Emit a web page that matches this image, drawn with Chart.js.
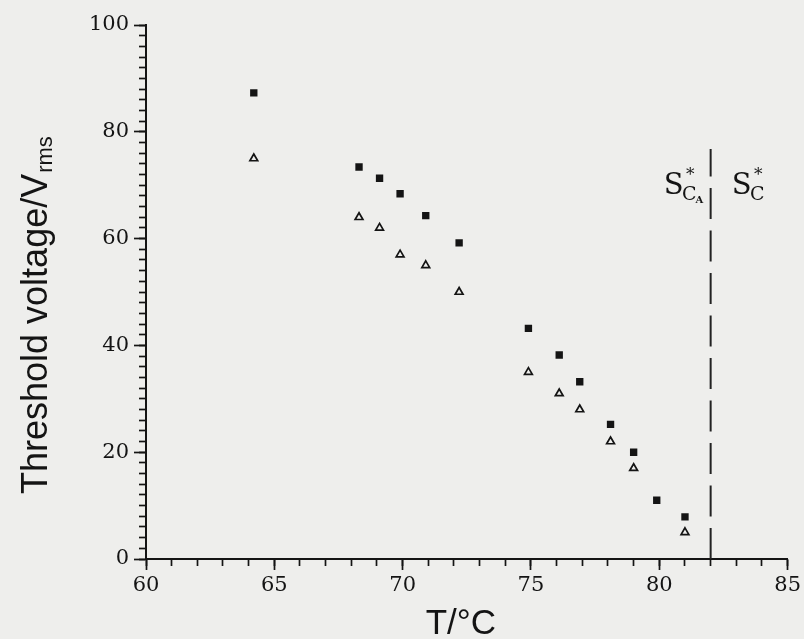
<!DOCTYPE html>
<html><head><meta charset="utf-8">
<script src="https://cdn.jsdelivr.net/npm/chart.js@4/dist/chart.umd.min.js"></script>
<style>html,body{margin:0;padding:0;background:#eeeeec;overflow:hidden}canvas{display:block}</style>
</head><body>
<canvas id="c" width="804" height="639" style="width:804px;height:639px"></canvas>
<script>
// ---- data ----
const squareTemps = [64.2, 68.3, 69.1, 69.9, 70.9, 72.2, 74.9, 76.1, 76.9, 78.1, 79.0, 79.9, 81.0];
const squareVolts = [87.3, 73.4, 71.3, 68.4, 64.3, 59.2, 43.2, 38.2, 33.2, 25.2, 20.0, 11.0, 7.9];
const triangleTemps = [64.2, 68.3, 69.1, 69.9, 70.9, 72.2, 74.9, 76.1, 76.9, 78.1, 79.0, 81.0];
const triangleVolts = [75, 64, 62, 57, 55, 50, 35, 31, 28, 22, 17, 5];
const transitionTemp = 82;
const transitionSpan = [0, 76.8];
const xRange = [60, 85];
const xMajorStep = 5, xMinorStep = 1;
const yRange = [0, 100];
const yMajorStep = 20, yMinorStep = 2;
const xTitle = 'T/°C';
const yTitleMain = 'Threshold voltage/V';
const yTitleSub = 'rms';
const phaseLabelLevel = 68.3;
const phaseLabels = [
  {main: 'S', sub: 'C', subsub: 'A', sup: '*'},
  {main: 'S', sub: 'C', subsub: '', sup: '*'}
];

const INK = '#141414';
const SERIF = '"DejaVu Serif", "Liberation Serif", serif';
const SANS = '"Liberation Sans", Arial, Helvetica, sans-serif';

const bgPlugin = {
  id: 'bg',
  beforeDraw(chart) {
    const ctx = chart.ctx;
    ctx.save();
    ctx.fillStyle = '#eeeeec';
    ctx.fillRect(0, 0, chart.width, chart.height);
    ctx.restore();
  }
};

const textPlugin = {
  id: 'texts',
  afterDraw(chart) {
    const ctx = chart.ctx;
    const xs = chart.scales.x, ys = chart.scales.y;
    const ca = chart.chartArea;
    ctx.save();
    ctx.fillStyle = INK;
    ctx.textBaseline = 'alphabetic';
    // x title
    ctx.font = '35px ' + SANS;
    ctx.textAlign = 'center';
    ctx.fillText(xTitle, (ca.left + ca.right) / 2 - 6, 634);
    // y title
    ctx.save();
    ctx.translate(47, 494);
    ctx.rotate(-Math.PI / 2);
    ctx.textAlign = 'left';
    ctx.font = '36px ' + SANS;
    ctx.fillText(yTitleMain, 0, 0);
    const w = ctx.measureText(yTitleMain).width;
    ctx.font = '22px ' + SANS;
    ctx.fillText(yTitleSub, w + 1, 5);
    ctx.restore();

    // phase labels around transition line
    const xp = xs.getPixelForValue(transitionTemp);
    const yp = ys.getPixelForValue(phaseLabelLevel);
    const starts = [-47, 21];
    phaseLabels.forEach((lab, i) => {
      let x = xp + starts[i];
      ctx.textAlign = 'left';
      ctx.font = '29px ' + SERIF;
      ctx.fillText(lab.main, x, yp);
      x += ctx.measureText(lab.main).width - 1.5;
      ctx.font = '19px ' + SERIF;
      ctx.fillText(lab.sub, x, yp + 5.5);
      const subW = ctx.measureText(lab.sub).width;
      ctx.font = '17px ' + SERIF;
      ctx.textAlign = 'center';
      ctx.fillText(lab.sup, x + subW / 2 + 1, yp - 14);
      x += subW - 1;
      if (lab.subsub) {
        ctx.textAlign = 'left';
        ctx.font = 'bold 10px ' + SERIF;
        ctx.fillText(lab.subsub, x, yp + 8.5);
      }
    });
    ctx.restore();
  }
};

const tickFont = {family: SERIF, size: 21};

new Chart(document.getElementById('c'), {
  type: 'scatter',
  data: {
    datasets: [
      {
        label: 'squares',
        data: squareTemps.map((t, i) => ({x: t, y: squareVolts[i]})),
        pointStyle: 'rect',
        pointRadius: 5.2,
        backgroundColor: INK,
        borderColor: INK,
        borderWidth: 0
      },
      {
        label: 'triangles',
        data: triangleTemps.map((t, i) => ({x: t, y: triangleVolts[i]})),
        pointStyle: 'triangle',
        pointRadius: 4.5,
        backgroundColor: 'rgba(0,0,0,0)',
        borderColor: INK,
        borderWidth: 1.7
      },
      {
        type: 'line',
        label: 'transition',
        data: transitionSpan.map(v => ({x: transitionTemp, y: v})),
        borderColor: '#222',
        borderWidth: 2,
        borderDash: [31, 11.5],
        pointRadius: 0,
        fill: false
      }
    ]
  },
  options: {
    responsive: false,
    animation: false,
    events: [],
    layout: {padding: {top: 25, right: 15, left: 0, bottom: 0}},
    plugins: {legend: {display: false}, tooltip: {enabled: false}},
    scales: {
      x: {
        type: 'linear', position: 'bottom', min: xRange[0], max: xRange[1], weight: 1,
        afterFit(s) { s.height = 80; },
        border: {display: true, color: INK, width: 2},
        grid: {drawOnChartArea: false, drawTicks: true, tickLength: 11, tickColor: INK, tickWidth: 1.7},
        ticks: {stepSize: xMajorStep, padding: 3, color: INK, font: tickFont, maxRotation: 0, autoSkip: false}
      },
      xMinor: {
        type: 'linear', position: 'bottom', min: xRange[0], max: xRange[1], weight: 0,
        afterFit(s) { s.height = 0; },
        border: {display: false},
        grid: {drawOnChartArea: false, drawTicks: true, tickLength: 7, tickColor: INK, tickWidth: 1.7},
        ticks: {stepSize: xMinorStep, display: false, maxTicksLimit: 100, autoSkip: false}
      },
      y: {
        type: 'linear', position: 'left', min: yRange[0], max: yRange[1], weight: 1,
        afterFit(s) { s.width = 146; },
        border: {display: true, color: INK, width: 2},
        grid: {drawOnChartArea: false, drawTicks: true, tickLength: 12, tickColor: INK, tickWidth: 1.7},
        ticks: {stepSize: yMajorStep, padding: 5, color: INK, font: tickFont, autoSkip: false}
      },
      yMinor: {
        type: 'linear', position: 'left', min: yRange[0], max: yRange[1], weight: 0,
        afterFit(s) { s.width = 0; },
        border: {display: false},
        grid: {drawOnChartArea: false, drawTicks: true, tickLength: 7, tickColor: INK, tickWidth: 1.7},
        ticks: {stepSize: yMinorStep, display: false, maxTicksLimit: 100, autoSkip: false}
      }
    }
  },
  plugins: [bgPlugin, textPlugin]
});
</script>
</body></html>
